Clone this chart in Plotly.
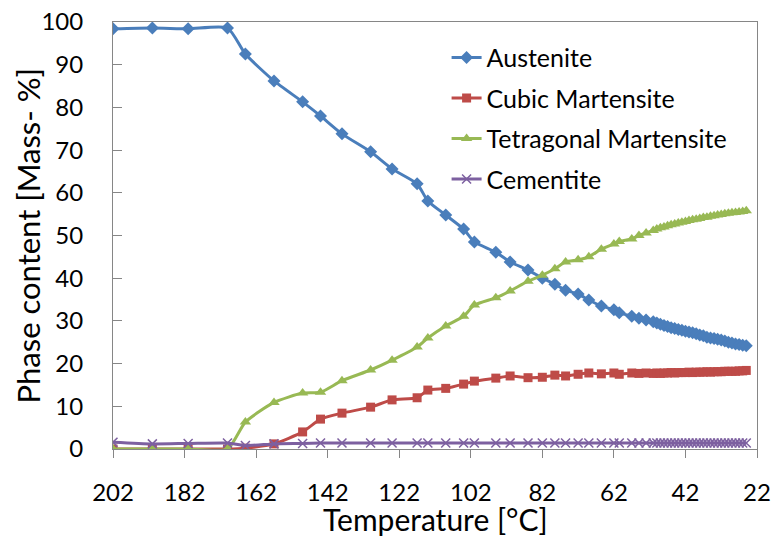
import plotly.graph_objects as go

temperature = [202, 191, 181, 170, 165, 157, 149, 144, 138, 130, 124, 117, 114, 109, 104, 101,
               95, 91, 86, 82, 78.5, 75.5, 72, 69, 65.5, 62, 60.5, 57, 55, 53, 51,
               50, 49, 48, 47, 46, 45, 44, 43, 42, 41, 40, 39, 38, 37, 36, 35, 34, 33, 32,
               31, 30, 29, 28, 27, 26, 25]

austenite = [98.4, 98.6, 98.4, 98.6, 92.5, 86.2, 81.3, 78.0, 73.8, 69.6, 65.6, 62.1, 58.1, 54.8,
             51.5, 48.5, 46.1, 43.8, 41.9, 40.0, 38.6, 37.2, 36.3, 34.9, 33.5, 32.6, 31.9, 31.1,
             30.6, 30.2, 29.8,
             29.5, 29.2, 28.9, 28.7, 28.4, 28.2, 28.0, 27.8, 27.6, 27.4, 27.2, 27.0, 26.7, 26.5,
             26.2, 26.0, 25.9, 25.7, 25.5, 25.3, 25.0, 24.8, 24.6, 24.5, 24.3, 24.2]

cubic_martensite = [0, 0, 0, 0, 0.2, 1.2, 4.0, 7.0, 8.4, 9.8, 11.5, 12.0, 13.8, 14.2, 15.2, 15.9,
                    16.6, 17.1, 16.7, 16.8, 17.3, 17.1, 17.5, 17.8, 17.6, 17.8, 17.5, 17.8, 17.7,
                    17.8, 17.7,
                    17.8, 17.7, 17.8, 17.8, 17.9, 17.8, 17.9, 17.9, 17.9, 18.0, 17.9, 18.0, 18.0,
                    18.0, 18.1, 18.0, 18.1, 18.1, 18.1, 18.2, 18.2, 18.2, 18.2, 18.3, 18.3, 18.4]

tetragonal_martensite = [0, 0, 0, 0, 6.3, 10.9, 13.1, 13.3, 16.0, 18.5, 20.8, 23.9, 26.0, 28.8,
                         31.1, 33.7, 35.4, 37.0, 39.3, 40.7, 42.2, 43.8, 44.3, 45.0, 46.8, 48.0,
                         48.6, 49.2, 50.0, 50.6, 51.2,
                         51.5, 51.8, 52.0, 52.3, 52.5, 52.7, 52.9, 53.1, 53.3, 53.5, 53.7, 53.8,
                         54.0, 54.2, 54.3, 54.5, 54.6, 54.8, 54.9, 55.1, 55.2, 55.3, 55.4, 55.5,
                         55.6, 55.8]

cementite = [1.6, 1.2, 1.3, 1.4, 0.8, 1.2, 1.3, 1.4, 1.4, 1.4, 1.4, 1.4, 1.4, 1.4, 1.4, 1.4,
             1.4, 1.4, 1.4, 1.4, 1.4, 1.4, 1.4, 1.4, 1.4, 1.4, 1.4, 1.4, 1.4, 1.4, 1.4,
             1.4, 1.4, 1.4, 1.4, 1.4, 1.4, 1.4, 1.4, 1.4, 1.4, 1.4, 1.4, 1.4, 1.4, 1.4,
             1.4, 1.4, 1.4, 1.4, 1.4, 1.4, 1.4, 1.4, 1.4, 1.4, 1.4]

x_ticks = [202, 182, 162, 142, 122, 102, 82, 62, 42, 22]
y_ticks = [0, 10, 20, 30, 40, 50, 60, 70, 80, 90, 100]
x_title = "Temperature [°C]"
y_title = "Phase content [Mass- %]"

FONT = "Lato, Carlito, Calibri, sans-serif"

series = [
    ("Austenite", austenite, "#4A7EBB", dict(symbol="diamond", size=10)),
    ("Cubic Martensite", cubic_martensite, "#BE4B48", dict(symbol="square", size=9)),
    ("Tetragonal Martensite", tetragonal_martensite, "#98B954", dict(symbol="triangle-up", size=10)),
    ("Cementite", cementite, "#7D60A0", dict(symbol="x-thin", size=9, line=dict(width=1.5, color="#7D60A0"))),
]

fig = go.Figure()
for name, vals, color, marker in series:
    m = dict(color=color, **marker)
    fig.add_trace(go.Scatter(
        x=temperature, y=vals, name=name, mode="lines+markers",
        line=dict(color=color, width=3, shape="spline", smoothing=0.6),
        marker=m, legendgroup=name,
    ))

fig.update_layout(
    width=773, height=538,
    paper_bgcolor="white", plot_bgcolor="white",
    margin=dict(l=113, r=16, t=22, b=89),
    font=dict(family=FONT, color="black", size=22),
    showlegend=True,
    legend=dict(x=0.518, y=0.97, xanchor="left", yanchor="top",
                font=dict(size=25, family=FONT), bgcolor="rgba(0,0,0,0)",
                traceorder="grouped", tracegroupgap=5, itemwidth=30),
)
fig.update_xaxes(
    range=[202, 22], tickvals=x_ticks, ticktext=[str(v) for v in x_ticks],
    showgrid=False, zeroline=False, showline=True, linecolor="#868686", linewidth=1,
    mirror=True, ticks="outside", ticklen=8, tickcolor="#868686",
    ticklabelstandoff=14, ticklabeloverflow="allow", tickfont=dict(size=24), automargin=False,
)
fig.update_yaxes(
    range=[0, 100], tickvals=y_ticks,
    showgrid=False, zeroline=False, showline=True, linecolor="#868686", linewidth=1,
    mirror=True, ticks="inside", ticklen=9, tickcolor="#868686",
    ticklabelstandoff=24, ticklabeloverflow="allow", tickfont=dict(size=24), automargin=False,
)

# axis titles as annotations for exact placement
fig.add_annotation(text=x_title, xref="paper", yref="paper", x=0.5, y=-0.163,
                   xanchor="center", yanchor="middle", showarrow=False,
                   font=dict(size=30, family=FONT, color="black"))
fig.add_annotation(text=y_title, xref="paper", yref="paper", x=-0.132, y=0.5,
                   xanchor="center", yanchor="middle", showarrow=False, textangle=-90,
                   font=dict(size=31, family=FONT, color="black"))

# remove the browser's default 8px body margin so the figure fills the window exactly
fig.write_html("out.html", config={"displayModeBar": False},
               post_script="document.body.style.margin='0';")
